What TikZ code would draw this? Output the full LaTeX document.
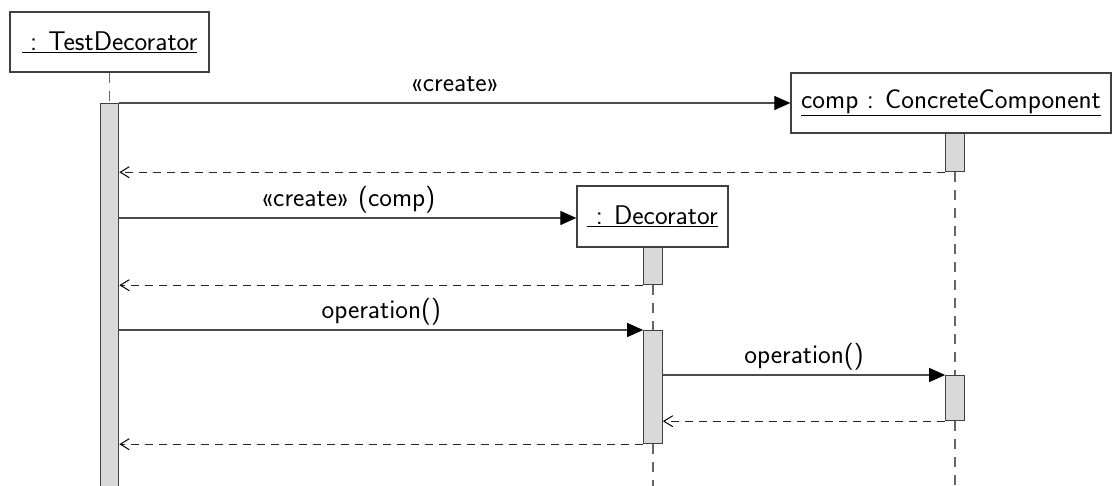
\documentclass[tikz,border=0pt]{standalone}
\usepackage{fontspec}
\usetikzlibrary{arrows.meta}
\definecolor{barfill}{HTML}{D9D9D9}
\definecolor{edge}{HTML}{404040}
\tikzset{
  objbox/.style={draw=edge, line width=1.3pt, fill=white, inner sep=0pt,
    minimum height=60pt, font=\sffamily\fontsize{27}{32}\selectfont},
  actbar/.style={draw=edge, line width=1.2pt, fill=barfill, inner sep=0pt,
    minimum width=18.5pt, anchor=north},
  lifeline/.style={draw=black!60, line width=1.2pt, dash pattern=on 10pt off 8pt},
  callmsg/.style={draw=black!70, line width=1.2pt,
    -{Triangle[length=16pt,width=14pt,color=black]}},
  retmsg/.style={draw=black!85, line width=1pt, dash pattern=on 8pt off 6pt,
    -{Straight Barb[length=9pt,width=11pt,color=black]}},
  msglabel/.style={font=\sffamily\fontsize{27}{32}\selectfont, inner sep=0pt,
    anchor=base, yshift=11.5pt},
}
\begin{document}
\begin{tikzpicture}[x=1pt, y=-1pt]
\useasboundingbox (0,0) rectangle (1113,486);
\coordinate (bottom) at (0,486);

% participants
\node[objbox, minimum width=199pt] (td) at (109.5,42) {\underline{\ : TestDecorator}};
\node[objbox, minimum width=320pt] (comp) at (951,103) {\underline{comp : ConcreteComponent}};
\node[objbox, minimum width=151pt, minimum height=61pt] (dec) at (652.5,216.5) {\underline{\ : Decorator}};

% activations
\node[actbar, minimum height=395pt] (tdbar) at (109.5,103) {};
\node[actbar, minimum height=38pt] (compbar1) at (955,133) {};
\node[actbar, minimum height=37pt] (decbar1) at (653,247) {};
\node[actbar, minimum height=113pt] (decbar2) at (653,330) {};
\node[actbar, minimum height=45pt] (compbar2) at (955,375) {};

% lifelines
\draw[lifeline] (td.south) -- (tdbar.north);
\draw[lifeline] (compbar1.south) -- (compbar2.north);
\draw[lifeline] (compbar2.south) -- (compbar2.south |- bottom);
\draw[lifeline] (decbar1.south) -- (decbar2.north);
\draw[lifeline] (decbar2.south) -- (decbar2.south |- bottom);

% messages
\draw[callmsg] (tdbar.north east) -- node[msglabel] {«create»} (comp.west);
\draw[retmsg] (compbar1.south west) -- (tdbar.east |- compbar1.south);
\draw[callmsg] (tdbar.east |- 0,218) -- node[msglabel] {«create» (comp)} (dec.west |- 0,218);
\draw[retmsg] (decbar1.south west) -- (tdbar.east |- decbar1.south);
\draw[callmsg] (tdbar.east |- decbar2.north) -- node[msglabel] {operation()} (decbar2.north west);
\draw[callmsg] (decbar2.east |- compbar2.north) -- node[msglabel] {operation()} (compbar2.north west);
\draw[retmsg] (compbar2.south west) -- (decbar2.east |- compbar2.south);
\draw[retmsg] (decbar2.south west) -- (tdbar.east |- decbar2.south);
\end{tikzpicture}
\end{document}
